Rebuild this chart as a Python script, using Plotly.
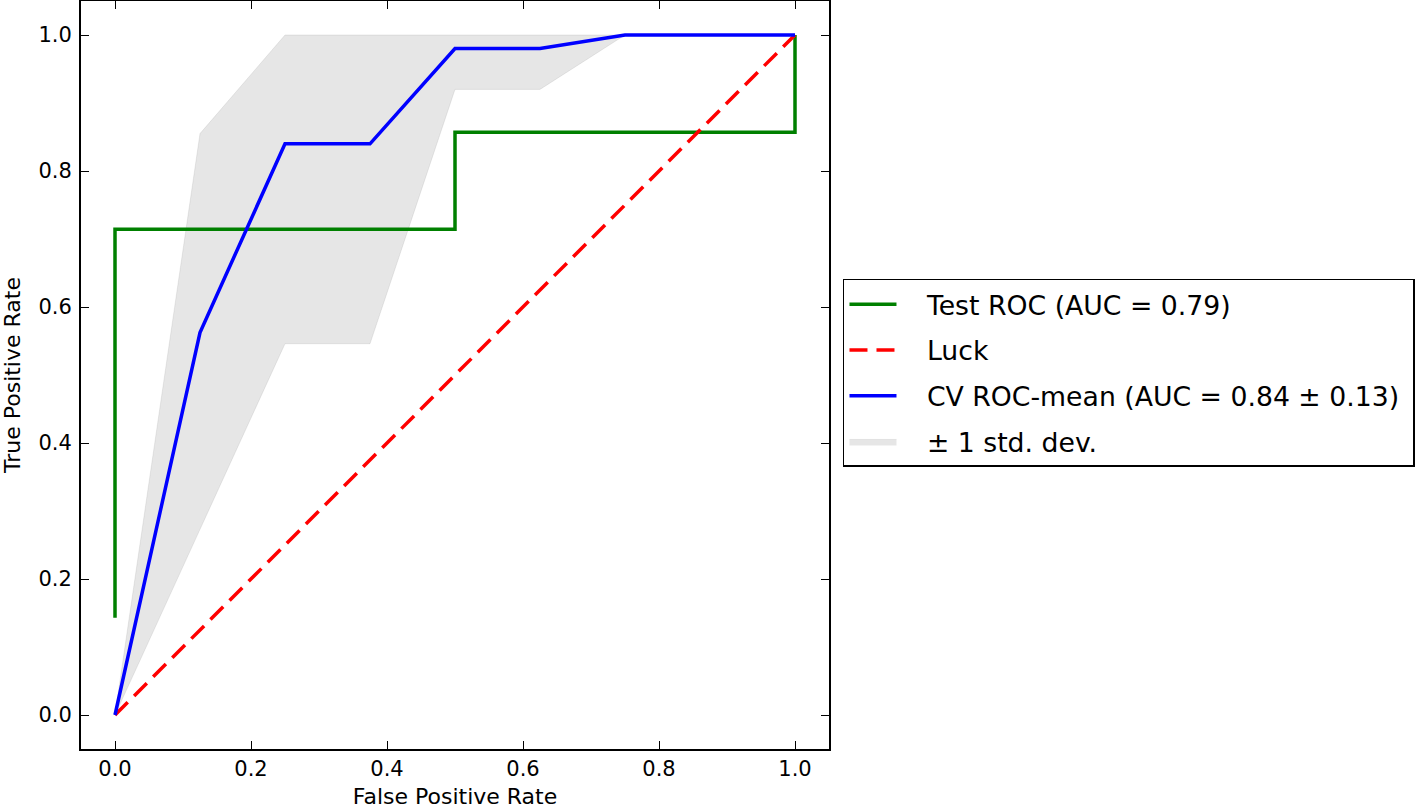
import plotly.graph_objects as go

# ---- data ----
test_fpr = [0.0, 0.0, 0.5, 0.5, 1.0, 1.0]
test_tpr = [0.1429, 0.7143, 0.7143, 0.8571, 0.8571, 1.0]

luck_x = [0.0, 1.0]
luck_y = [0.0, 1.0]

cv_fpr = [0.0, 0.125, 0.25, 0.375, 0.5, 0.625, 0.75, 0.875, 1.0]
cv_mean_tpr = [0.0, 0.5625, 0.84, 0.84, 0.98, 0.98, 1.0, 1.0, 1.0]
cv_upper = [0.0, 0.855, 1.0, 1.0, 1.0, 1.0, 1.0, 1.0, 1.0]
cv_lower = [0.0, 0.273, 0.546, 0.546, 0.92, 0.92, 1.0, 1.0, 1.0]

xticks = [0.0, 0.2, 0.4, 0.6, 0.8, 1.0]
yticks = [0.0, 0.2, 0.4, 0.6, 0.8, 1.0]

names = [
    "Test ROC (AUC = 0.79)",
    "Luck",
    "CV ROC-mean (AUC = 0.84\u00a0±\u00a00.13)",
    "±\u00a01 std. dev.",
]

FONT = "DejaVu Sans"
PAD = "\u00a0\u00a0\u00a0"

fig = go.Figure()

# std band (drawn first, listed last in legend)
fig.add_trace(go.Scatter(
    x=cv_fpr + cv_fpr[::-1],
    y=cv_upper + cv_lower[::-1],
    fill="toself",
    fillcolor="rgba(128,128,128,0.2)",
    line=dict(color="rgba(128,128,128,0.15)", width=1),
    mode="lines",
    name=PAD + names[3],
    legendrank=4,
    legendgroup="d",
    hoverinfo="skip",
))

fig.add_trace(go.Scatter(
    x=test_fpr, y=test_tpr, mode="lines",
    line=dict(color="#008000", width=3.5),
    name=PAD + names[0], legendrank=1, legendgroup="a",
))

fig.add_trace(go.Scatter(
    x=luck_x, y=luck_y, mode="lines",
    line=dict(color="#ff0000", width=3.5, dash="18px,9px"),
    name=PAD + names[1], legendrank=2, legendgroup="b",
))

fig.add_trace(go.Scatter(
    x=cv_fpr, y=cv_mean_tpr, mode="lines",
    line=dict(color="#0000ff", width=3.5),
    name=PAD + names[2] + "\u00a0", legendrank=3, legendgroup="c",
))

axis_common = dict(
    showgrid=False, zeroline=False, automargin=False,
    showline=True, linecolor="black", linewidth=2, mirror="ticks",
    ticks="inside", ticklen=8, tickwidth=1, tickcolor="black",
    tickformat=".1f",
    tickfont=dict(family=FONT, size=21, color="black"),
)

fig.update_xaxes(
    range=[-0.05, 1.05], tickvals=xticks, ticklabelstandoff=0,
    title=dict(text="False Positive Rate", font=dict(family=FONT, size=22, color="black"), standoff=10),
    **axis_common,
)
fig.update_yaxes(
    range=[-0.05, 1.05], tickvals=yticks, ticklabelstandoff=3,
    title=dict(text="True Positive Rate", font=dict(family=FONT, size=22, color="black"), standoff=18),
    **axis_common,
)

fig.update_layout(
    width=1416, height=809,
    margin=dict(l=81, r=587, t=1, b=60, autoexpand=False),
    plot_bgcolor="white", paper_bgcolor="white",
    font=dict(family=FONT, color="black"),
    showlegend=True,
    legend=dict(
        x=1.0187, xanchor="left",
        y=0.6284, yanchor="top",
        bordercolor="black", borderwidth=1.5,
        bgcolor="white",
        font=dict(family=FONT, size=26.7, color="black"),
        tracegroupgap=8,
        itemwidth=47,
    ),
)

fig.write_html(
    "out.html",
    config={"displayModeBar": False},
    post_script="document.body.style.margin='0';document.body.style.overflow='hidden';",
)
